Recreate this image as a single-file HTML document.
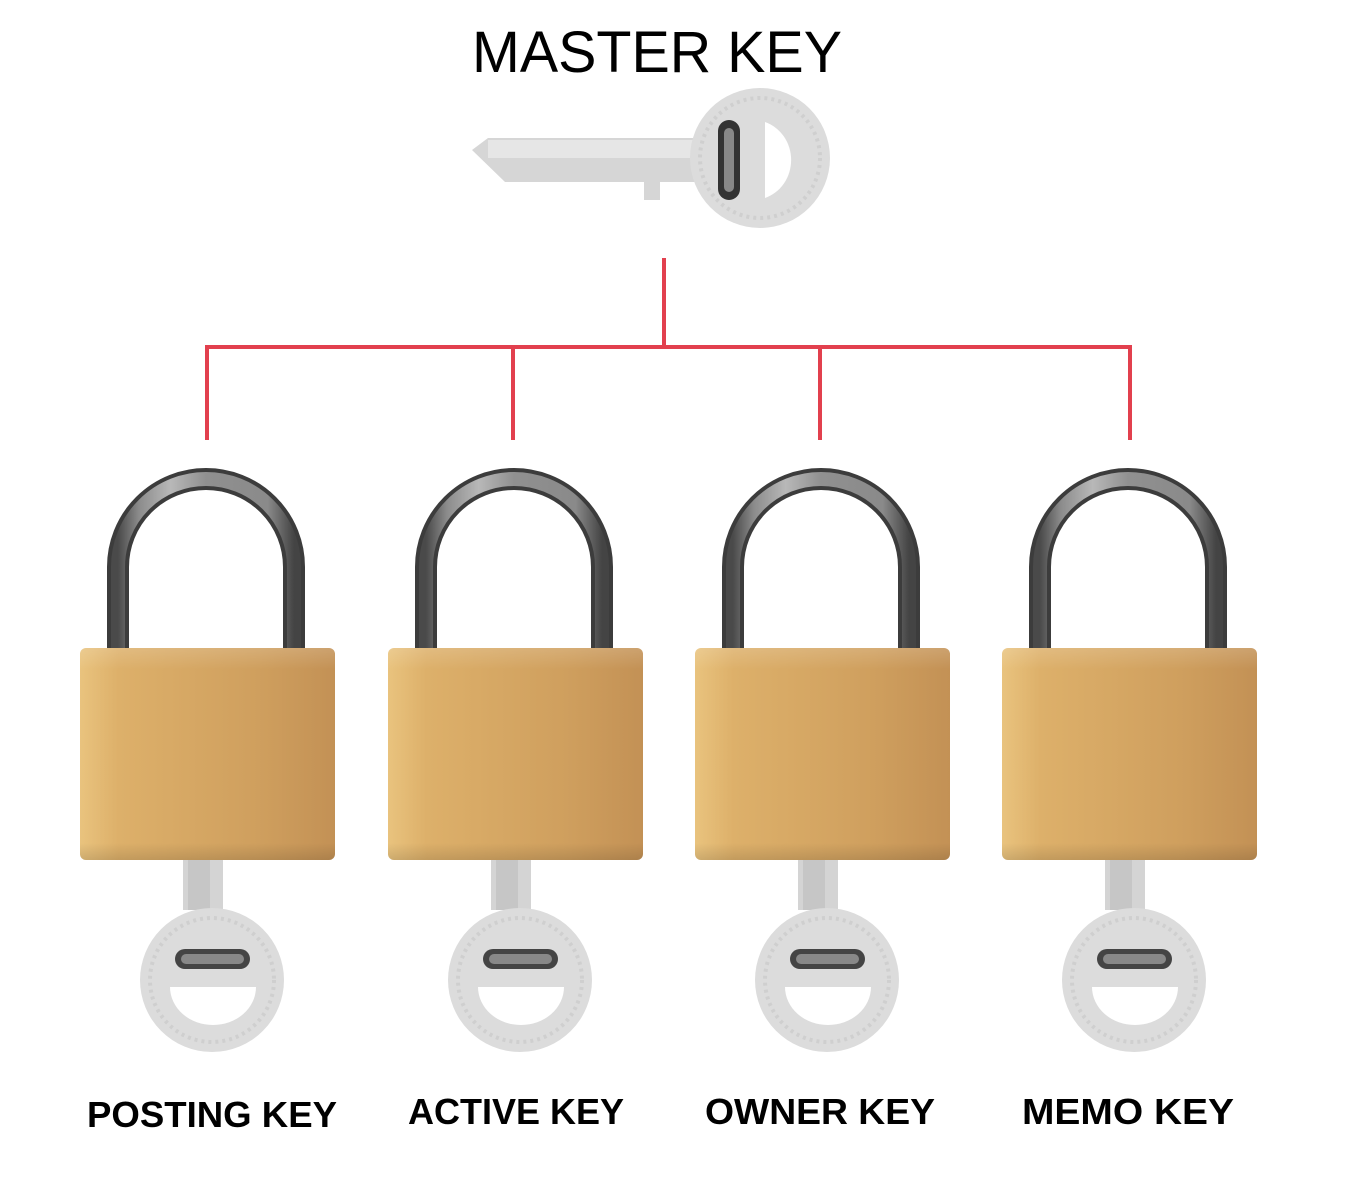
<!DOCTYPE html>
<html><head><meta charset="utf-8"><style>
html,body{margin:0;padding:0;background:#fff;}
svg{display:block;}
</style></head><body>
<svg width="1347" height="1200" viewBox="0 0 1347 1200" xmlns="http://www.w3.org/2000/svg">
<defs>
<linearGradient id="body" x1="0" y1="0" x2="1" y2="0">
<stop offset="0" stop-color="#e9c37e"/><stop offset="0.15" stop-color="#ddb06a"/><stop offset="0.7" stop-color="#cf9f5e"/><stop offset="1" stop-color="#c39155"/>
</linearGradient>
<linearGradient id="bodyv" x1="0" y1="0" x2="0" y2="1">
<stop offset="0" stop-color="#fff" stop-opacity="0.15"/><stop offset="0.1" stop-color="#fff" stop-opacity="0"/><stop offset="0.92" stop-color="#000" stop-opacity="0"/><stop offset="1" stop-color="#000" stop-opacity="0.12"/>
</linearGradient>
<linearGradient id="shk" x1="0" y1="0" x2="1" y2="0">
<stop offset="0" stop-color="#4a4a4a"/><stop offset="0.12" stop-color="#8c8c8c"/><stop offset="0.3" stop-color="#b8b8b8"/><stop offset="0.5" stop-color="#909090"/><stop offset="0.85" stop-color="#8a8a8a"/><stop offset="1" stop-color="#444"/>
</linearGradient>
<g id="lock">
<path d="M38,185 L38,95 A88,88 0 0 1 214,95 L214,185" fill="none" stroke="#3c3c3c" stroke-width="22"/>
<path d="M38,185 L38,95 A88,88 0 0 1 214,95 L214,185" fill="none" stroke="url(#shk)" stroke-width="14"/>
<rect x="0" y="176" width="255" height="212" rx="6" fill="url(#body)"/>
<rect x="0" y="176" width="255" height="212" rx="6" fill="url(#bodyv)"/>
<rect x="103" y="388" width="40" height="50" fill="#d4d4d4"/>
<rect x="108" y="388" width="22" height="50" fill="#c6c6c6"/>
<circle cx="132" cy="508" r="72" fill="#dcdcdc"/>
<circle cx="132" cy="508" r="62" fill="none" stroke="#cfcfcf" stroke-width="4" stroke-dasharray="3 4"/>
<rect x="95" y="477" width="75" height="20" rx="10" fill="#444"/>
<rect x="101" y="482" width="63" height="10" rx="5" fill="#888"/>
<path d="M90,515 L176,515 A43,38 0 0 1 90,515 Z" fill="#fff"/>
</g>
</defs>

<text x="657" y="72" font-family="Liberation Sans, sans-serif" font-size="58" text-anchor="middle" textLength="370" lengthAdjust="spacingAndGlyphs">MASTER KEY</text>

<path d="M472,150 L488,138 L700,138 L700,182 L660,182 L660,200 L644,200 L644,182 L505,182 Z" fill="#d6d6d6"/>
<rect x="488" y="140" width="210" height="18" fill="#e6e6e6"/>
<circle cx="760" cy="158" r="70" fill="#dcdcdc"/>
<circle cx="760" cy="158" r="60" fill="none" stroke="#cfcfcf" stroke-width="4" stroke-dasharray="3 4"/>
<rect x="718" y="120" width="22" height="80" rx="11" fill="#333"/>
<rect x="724" y="128" width="10" height="64" rx="5" fill="#888"/>
<path d="M765,122 L765,198 A38,40 0 0 0 765,122 Z" fill="#fff"/>

<g stroke="#e2404e" stroke-width="4" fill="none">
<line x1="664" y1="258" x2="664" y2="347"/>
<line x1="205" y1="347" x2="1132" y2="347"/>
<line x1="207" y1="345" x2="207" y2="440"/>
<line x1="513" y1="345" x2="513" y2="440"/>
<line x1="820" y1="345" x2="820" y2="440"/>
<line x1="1130" y1="345" x2="1130" y2="440"/>
</g>

<use href="#lock" transform="translate(80,472)"/>
<use href="#lock" transform="translate(388,472)"/>
<use href="#lock" transform="translate(695,472)"/>
<use href="#lock" transform="translate(1002,472)"/>

<g font-family="Liberation Sans, sans-serif" font-weight="bold" font-size="36" text-anchor="middle">
<text x="212" y="1127" textLength="250" lengthAdjust="spacingAndGlyphs">POSTING KEY</text>
<text x="516" y="1124" textLength="216" lengthAdjust="spacingAndGlyphs">ACTIVE KEY</text>
<text x="820" y="1124" textLength="230" lengthAdjust="spacingAndGlyphs">OWNER KEY</text>
<text x="1128" y="1124" textLength="212" lengthAdjust="spacingAndGlyphs">MEMO KEY</text>
</g>
</svg>
</body></html>
